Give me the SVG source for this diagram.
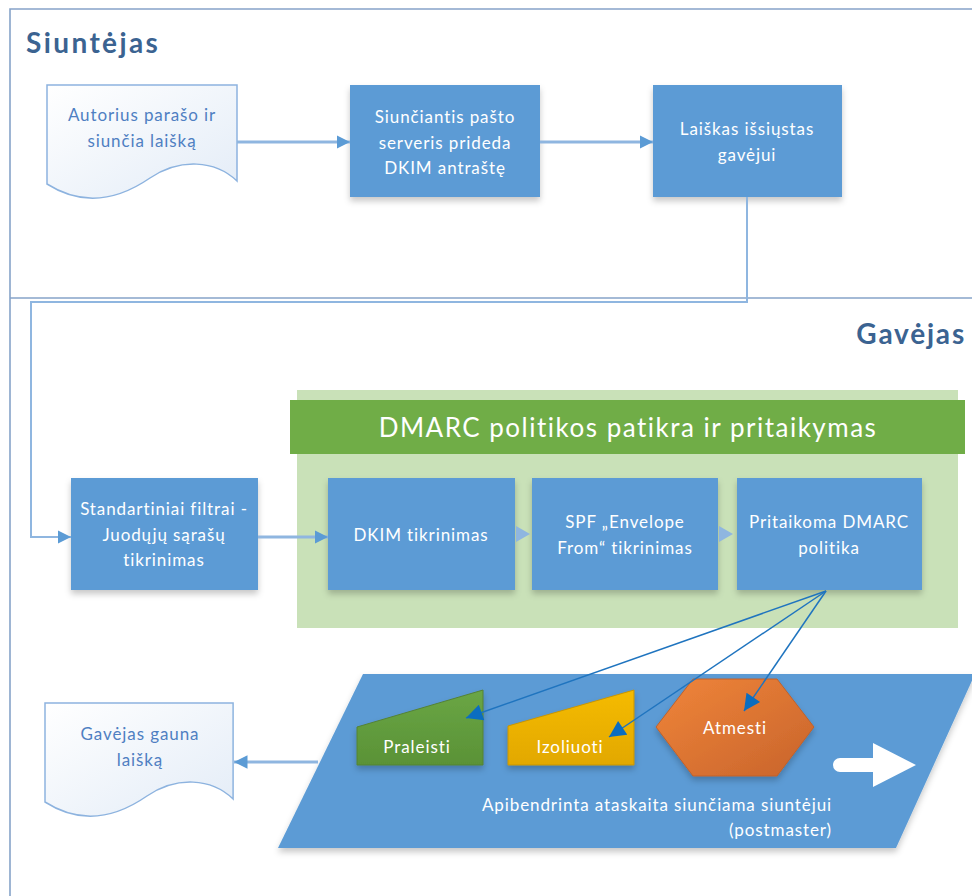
<svg xmlns="http://www.w3.org/2000/svg" width="972" height="896" viewBox="0 0 972 896">
  <style>
    .lane { fill: none; stroke: #86a3c9; stroke-width: 1.6; }
    .lane-title { font-family: Lato, "Liberation Sans", sans-serif; font-weight: bold; font-size: 28px; fill: #3b6391; }
    .proc { fill: #5b9bd5; filter: url(#shadow); }
    .label { font-family: Lato, "Liberation Sans", sans-serif; font-size: 17px; letter-spacing: 0.9px; }
    .proc-text { fill: #ffffff; text-anchor: middle; }
    .doc { fill: url(#docFill); stroke: #8db3df; stroke-width: 1.5; }
    .doc-text { fill: #4f7fc2; text-anchor: middle; }
    .flow { fill: none; stroke: #8fb6e0; stroke-width: 3; }
    .flow-thin { fill: none; stroke: #8fb6e0; stroke-width: 2; }
    .decide { fill: none; stroke: #1f74bf; stroke-width: 1.5; }
    .white-text { fill: #ffffff; text-anchor: middle; }
    .report-text { fill: #ffffff; text-anchor: end; }
  </style>
  <defs>
    <linearGradient id="docFill" x1="0" y1="0" x2="1" y2="1">
      <stop offset="0" stop-color="#ffffff"/>
      <stop offset="1" stop-color="#e3ecf7"/>
    </linearGradient>
    <linearGradient id="greenFill" x1="0" y1="0" x2="0" y2="1">
      <stop offset="0" stop-color="#6aa645"/>
      <stop offset="1" stop-color="#5a9236"/>
    </linearGradient>
    <linearGradient id="yellowFill" x1="0" y1="0" x2="0" y2="1">
      <stop offset="0" stop-color="#f5bb05"/>
      <stop offset="1" stop-color="#e2a800"/>
    </linearGradient>
    <linearGradient id="orangeFill" x1="0" y1="0" x2="1" y2="1">
      <stop offset="0" stop-color="#f0853a"/>
      <stop offset="1" stop-color="#c8642b"/>
    </linearGradient>
    <filter id="shadow" x="-10%" y="-10%" width="120%" height="130%">
      <feDropShadow dx="0" dy="4" stdDeviation="3" flood-color="#000000" flood-opacity="0.22"/>
    </filter>
    <marker id="arrowFlow" viewBox="0 0 10 10" refX="10" refY="5" markerWidth="4.5" markerHeight="5.5" orient="auto" markerUnits="strokeWidth">
      <path d="M0,0 L10,5 L0,10 Z" fill="#5b9bd5"/>
    </marker>
    <marker id="arrowThin" viewBox="0 0 10 10" refX="10" refY="5" markerWidth="6.5" markerHeight="8" orient="auto" markerUnits="strokeWidth">
      <path d="M0,0 L10,5 L0,10 Z" fill="#5b9bd5"/>
    </marker>
    <marker id="arrowDecide" viewBox="0 0 10 10" refX="10" refY="5" markerWidth="13" markerHeight="11" orient="auto" markerUnits="strokeWidth">
      <path d="M0,0 L10,5 L0,10 Z" fill="#0b6dc0"/>
    </marker>
    <path id="docShape" d="M0,0 H190 V96 C168,75 133,73 103,93 C68,117 33,120 0,99 Z"/>
  </defs>

  <!-- swimlane frame -->
  <g id="lanes">
    <path class="lane" d="M972,9 H10 V896"/>
    <line class="lane" x1="10" y1="298" x2="972" y2="298"/>
    <text class="lane-title" x="26" y="53" letter-spacing="2.4">Siuntėjas</text>
    <text class="lane-title" x="966" y="344" text-anchor="end" letter-spacing="1.8">Gavėjas</text>
  </g>

  <!-- DMARC container -->
  <g id="dmarc-container">
    <rect x="297" y="390" width="661" height="238" fill="#c9e1b8"/>
    <rect x="290" y="400" width="675" height="54" fill="#70ad47"/>
    <text x="628" y="437" font-family="Lato, 'Liberation Sans', sans-serif" font-size="26" letter-spacing="1.5" fill="#ffffff" text-anchor="middle">DMARC politikos patikra ir pritaikymas</text>
  </g>

  <!-- report area -->
  <g id="report">
    <path d="M363,674 H975 L896,848 H278 Z" fill="#5b9bd5" filter="url(#shadow)"/>
    <path d="M840,758 H873 V743 L916,765 L873,787 V772 H840 A7,7 0 0 1 840,758 Z" fill="#ffffff"/>
    <text class="label report-text" x="832" y="811">Apibendrinta ataskaita siunčiama siuntėjui</text>
    <text class="label report-text" x="832" y="836">(postmaster)</text>
  </g>

  <!-- sender nodes -->
  <g id="author">
    <use href="#docShape" class="doc" transform="translate(47,85)"/>
    <text class="label doc-text" x="142" y="121">Autorius parašo ir</text>
    <text class="label doc-text" x="142" y="147">siunčia laišką</text>
  </g>
  <g id="sending-server">
    <rect class="proc" x="350" y="85" width="190" height="112"/>
    <text class="label proc-text" x="445" y="123">Siunčiantis pašto</text>
    <text class="label proc-text" x="445" y="149">serveris prideda</text>
    <text class="label proc-text" x="445" y="174">DKIM antraštę</text>
  </g>
  <g id="sent">
    <rect class="proc" x="653" y="85" width="189" height="112"/>
    <text class="label proc-text" x="747" y="135">Laiškas išsiųstas</text>
    <text class="label proc-text" x="747" y="161">gavėjui</text>
  </g>

  <!-- receiver nodes -->
  <g id="standard-filters">
    <rect class="proc" x="71" y="478" width="187" height="112"/>
    <text class="label proc-text" x="164" y="515">Standartiniai filtrai -</text>
    <text class="label proc-text" x="164" y="541">Juodųjų sąrašų</text>
    <text class="label proc-text" x="164" y="566">tikrinimas</text>
  </g>
  <g id="dkim-check">
    <rect class="proc" x="328" y="478" width="187" height="112"/>
    <text class="label proc-text" x="421" y="541">DKIM tikrinimas</text>
  </g>
  <g id="spf-check">
    <rect class="proc" x="532" y="478" width="186" height="112"/>
    <text class="label proc-text" x="625" y="528">SPF „Envelope</text>
    <text class="label proc-text" x="625" y="554">From“ tikrinimas</text>
  </g>
  <g id="apply-dmarc">
    <rect class="proc" x="737" y="478" width="185" height="112"/>
    <text class="label proc-text" x="829" y="528">Pritaikoma DMARC</text>
    <text class="label proc-text" x="829" y="554">politika</text>
  </g>
  <g id="pass">
    <path d="M357,727 L483,690 V765 H357 Z" fill="url(#greenFill)" stroke="#548235" stroke-width="1" filter="url(#shadow)"/>
    <text class="label white-text" x="417" y="753">Praleisti</text>
  </g>
  <g id="quarantine">
    <path d="M508,726 L634,690 V765 H508 Z" fill="url(#yellowFill)" stroke="#c99500" stroke-width="1" filter="url(#shadow)"/>
    <text class="label white-text" x="570" y="753">Izoliuoti</text>
  </g>
  <g id="reject">
    <path d="M656,727 L693,679 H777 L814,727 L777,776 H693 Z" fill="url(#orangeFill)" stroke="#c0612a" stroke-width="1" filter="url(#shadow)"/>
    <text class="label white-text" x="735" y="734">Atmesti</text>
  </g>
  <g id="recipient">
    <use href="#docShape" class="doc" transform="translate(45,703) scale(0.99,1)"/>
    <text class="label doc-text" x="140" y="740">Gavėjas gauna</text>
    <text class="label doc-text" x="140" y="766">laišką</text>
  </g>

  <!-- connectors -->
  <g id="connectors">
    <line class="flow" x1="237" y1="142" x2="350" y2="142" marker-end="url(#arrowFlow)"/>
    <line class="flow" x1="540" y1="142" x2="653" y2="142" marker-end="url(#arrowFlow)"/>
    <path class="flow-thin" d="M747,197 V302 H31 V537 H71" marker-end="url(#arrowThin)"/>
    <line class="flow" x1="258" y1="537" x2="328" y2="537" marker-end="url(#arrowFlow)"/>
    <polygon points="516,526 530,534 516,542" fill="#8fb6e0"/>
    <polygon points="719,526 733,534 719,542" fill="#8fb6e0"/>
    <line class="flow" x1="318" y1="762" x2="234" y2="762" marker-end="url(#arrowFlow)"/>
    <line class="decide" x1="826" y1="591" x2="466" y2="718" marker-end="url(#arrowDecide)"/>
    <line class="decide" x1="826" y1="591" x2="609" y2="737" marker-end="url(#arrowDecide)"/>
    <line class="decide" x1="826" y1="591" x2="744" y2="711" marker-end="url(#arrowDecide)"/>
  </g>
</svg>
